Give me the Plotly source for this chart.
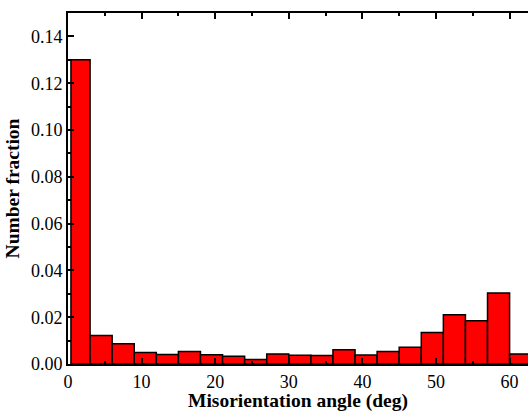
import plotly.graph_objects as go

bin_edges = [0.4, 3, 6, 9, 12, 15, 18, 21, 24, 27, 30, 33, 36, 39, 42, 45, 48, 51, 54, 57, 60, 63]
fractions = [0.130, 0.0122, 0.0087, 0.0049, 0.0041, 0.0053, 0.0040, 0.0033, 0.0019,
             0.0043, 0.0037, 0.0036, 0.0061, 0.0038, 0.0053, 0.0072, 0.0135, 0.0211,
             0.0185, 0.0303, 0.0043]
x_tick_vals = [0, 10, 20, 30, 40, 50, 60]
y_tick_vals = [0.00, 0.02, 0.04, 0.06, 0.08, 0.10, 0.12, 0.14]

centers = [(bin_edges[i] + bin_edges[i + 1]) / 2 for i in range(len(fractions))]
widths = [bin_edges[i + 1] - bin_edges[i] for i in range(len(fractions))]

font_family = "Liberation Serif"

fig = go.Figure(go.Bar(
    x=centers, y=fractions, width=widths,
    marker=dict(color="#FF0000", line=dict(color="#000000", width=1.5)),
    cliponaxis=True,
))

fig.update_layout(
    width=528, height=412,
    margin=dict(l=67.5, r=0, t=13, b=47.5),
    paper_bgcolor="white", plot_bgcolor="white",
    showlegend=False,
    font=dict(family=font_family, color="black", size=18),
)

fig.update_xaxes(
    range=[0, 62.5], tickvals=x_tick_vals, ticks="inside", ticklen=6, tickwidth=1.5,
    showline=True, linecolor="black", linewidth=2, mirror="ticks", showgrid=False, zeroline=False,
    minor=dict(dtick=5, ticks="inside", ticklen=3, tickwidth=1.5, tickcolor="black", showgrid=False),
    tickcolor="black", tickfont=dict(size=18, family=font_family),
    title=dict(text="<b>Misorientation angle (deg)</b>", font=dict(size=19.5, family=font_family), standoff=2),
)
fig.update_yaxes(
    range=[0, 0.15], tickvals=y_tick_vals, tickformat=".2f", ticks="inside", ticklen=6, tickwidth=1.5,
    showline=True, linecolor="black", linewidth=2, mirror=False, showgrid=False, zeroline=False,
    minor=dict(dtick=0.01, ticks="inside", ticklen=3, tickwidth=1.5, tickcolor="black", showgrid=False),
    tickcolor="black", tickfont=dict(size=18, family=font_family),
    title=dict(text="<b>Number fraction</b>", font=dict(size=19.5, family=font_family), standoff=6),
)

fig.write_html("out.html")
